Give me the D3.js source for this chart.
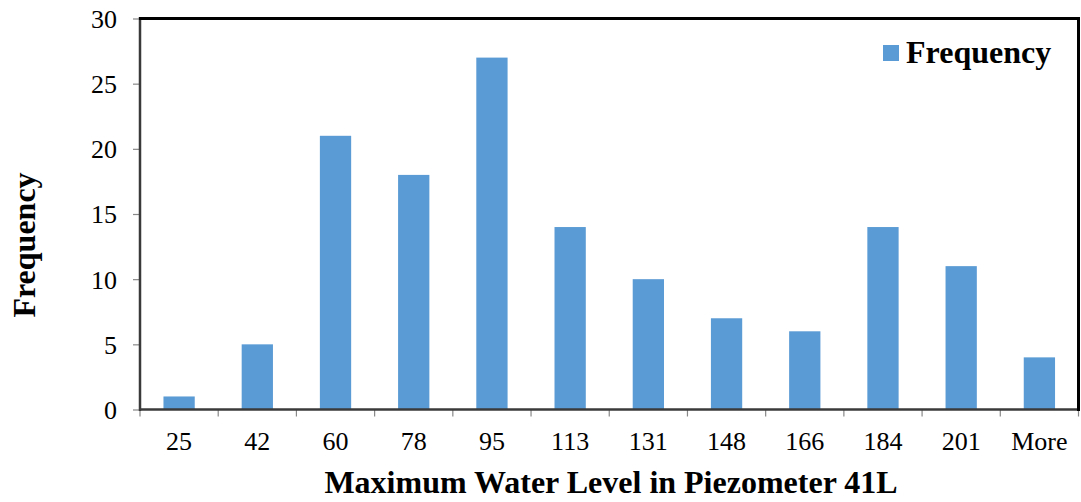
<!DOCTYPE html>
<html>
<head>
<meta charset="utf-8">
<script src="https://cdn.jsdelivr.net/npm/d3@7"></script>
<style>
  html, body { margin: 0; padding: 0; background: #fff; }
  svg { display: block; font-family: "Liberation Serif", "Times New Roman", serif; }
</style>
</head>
<body>
<svg id="chart" width="1081" height="502"></svg>
<script>
// Histogram bins and their counts
const categories = ["25", "42", "60", "78", "95", "113", "131", "148", "166", "184", "201", "More"];
const frequency = [1, 5, 21, 18, 27, 14, 10, 7, 6, 14, 11, 4];
const yTicks = [0, 5, 10, 15, 20, 25, 30];

const FONT = "'Liberation Serif', 'Times New Roman', serif";
const svg = d3.select("#chart");
const plotLeft = 140, plotRight = 1078.5, plotTop = 18.5, plotBottom = 409.5;

const x = d3.scaleBand().domain(categories).range([plotLeft, plotRight]).paddingInner(0.6).paddingOuter(0.3);
const xTicks = d3.scaleBand().domain(categories).range([plotLeft, plotRight]);
const y = d3.scaleLinear().domain([0, 30]).range([plotBottom, plotTop]);

// bars
svg.append("g").selectAll("rect").data(frequency).join("rect")
  .attr("x", (d, i) => x(categories[i]))
  .attr("y", d => y(d))
  .attr("width", x.bandwidth())
  .attr("height", d => y(0) - y(d))
  .attr("fill", "#5B9BD5");

// y axis
const yAxis = svg.append("g").attr("transform", `translate(${plotLeft},0)`)
  .call(d3.axisLeft(y).tickValues(yTicks).tickSize(7).tickPadding(16));
yAxis.attr("font-family", FONT).attr("font-size", 26);
yAxis.select(".domain").remove();
yAxis.selectAll(".tick line").attr("stroke", "#888").attr("stroke-width", 1.2);
yAxis.selectAll(".tick text").attr("fill", "#000").attr("dy", "0.34em");

// x axis: ticks sit at bin boundaries
const xAxisG = svg.append("g").attr("transform", `translate(0,${plotBottom})`);
xAxisG.selectAll("line").data(d3.range(categories.length + 1)).join("line")
  .attr("x1", i => plotLeft + i * xTicks.bandwidth())
  .attr("x2", i => plotLeft + i * xTicks.bandwidth())
  .attr("y1", 0).attr("y2", 7)
  .attr("stroke", "#888").attr("stroke-width", 1.2);
xAxisG.selectAll("text").data(categories).join("text")
  .attr("x", d => xTicks(d) + xTicks.bandwidth() / 2)
  .attr("y", 40.5)
  .attr("text-anchor", "middle")
  .attr("font-size", 26)
  .text(d => d);

// plot frame
svg.append("line").attr("x1", plotLeft).attr("x2", plotLeft).attr("y1", plotTop - 1.5).attr("y2", plotBottom + 1.5)
  .attr("stroke", "#3a3a3a").attr("stroke-width", 2.5);
svg.append("line").attr("x1", plotLeft).attr("x2", plotRight).attr("y1", plotBottom).attr("y2", plotBottom)
  .attr("stroke", "#3a3a3a").attr("stroke-width", 2.5);
svg.append("line").attr("x1", plotLeft - 1).attr("x2", plotRight + 1.5).attr("y1", plotTop).attr("y2", plotTop)
  .attr("stroke", "#000").attr("stroke-width", 3);
svg.append("line").attr("x1", plotRight).attr("x2", plotRight).attr("y1", plotTop).attr("y2", plotBottom + 1.5)
  .attr("stroke", "#000").attr("stroke-width", 3);

// legend
const legend = svg.append("g").attr("transform", "translate(883,45)");
legend.append("rect").attr("width", 16).attr("height", 16).attr("fill", "#5B9BD5");
legend.append("text").attr("x", 23).attr("y", 17.7)
  .attr("font-size", 32).attr("font-weight", "bold").text("Frequency");

// axis titles
svg.append("text").attr("x", 611).attr("y", 492.5)
  .attr("text-anchor", "middle").attr("font-size", 32).attr("font-weight", "bold")
  .text("Maximum Water Level in Piezometer 41L");
svg.append("text").attr("transform", "translate(35,245) rotate(-90)")
  .attr("text-anchor", "middle").attr("font-size", 32).attr("font-weight", "bold")
  .text("Frequency");
</script>
</body>
</html>
